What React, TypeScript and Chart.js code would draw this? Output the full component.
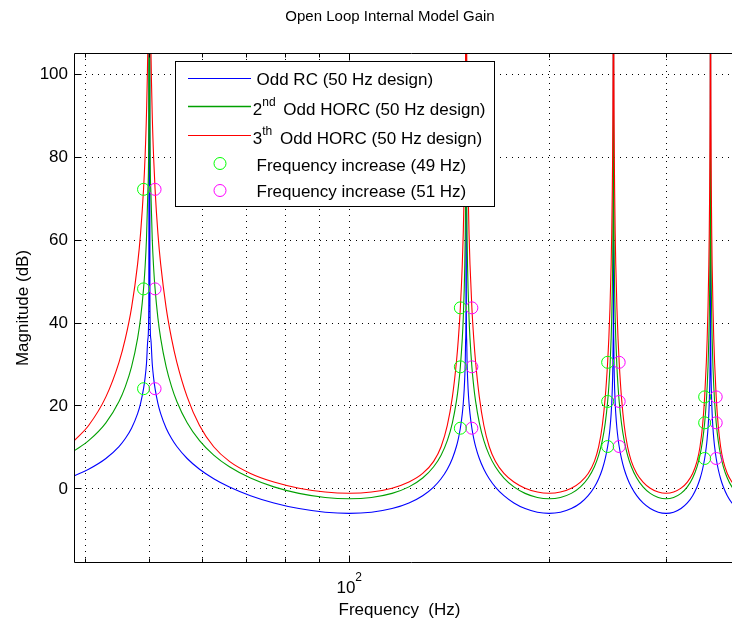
import React, { useEffect, useRef } from 'react';
import { Chart, registerables } from 'chart.js';

Chart.register(...registerables);

const FONT = '"Liberation Sans", Arial, Helvetica, sans-serif';

const chartTitle = 'Open Loop Internal Model Gain';
const xAxisTitle = 'Frequency  (Hz)';
const yAxisTitle = 'Magnitude (dB)';

// Frequencies (Hz) sampled along the curves
const frequencyHz = [
  38.5, 40.5, 43, 45, 46, 47, 48, 48.5, 49, 49.25, 49.5, 49.75, 49.9, 50,
  50.1, 50.25, 50.5, 50.75, 51, 51.5, 52, 53, 54, 55, 57, 59.5, 62.5, 66, 71, 77, 84, 92, 100,
  108, 116, 123, 129, 134, 137.5, 140.5, 143, 145, 146, 147, 148, 148.5, 149, 149.25, 149.5, 149.75, 149.9, 150,
  150.1, 150.25, 150.5, 150.75, 151, 151.5, 152, 153, 154, 155, 157, 159.5, 162.5, 166, 171, 177, 184, 192, 200,
  208, 216, 223, 229, 234, 237.5, 240.5, 243, 245, 246, 247, 248, 248.5, 249, 249.25, 249.5, 249.75, 249.9, 250,
  250.1, 250.25, 250.5, 250.75, 251, 251.5, 252, 253, 254, 255, 257, 259.5, 262.5, 266, 271, 277, 284, 292, 300,
  308, 316, 323, 329, 334, 337.5, 340.5, 343, 345, 346, 347, 348, 348.5, 349, 349.25, 349.5, 349.75, 349.9, 350,
  350.1, 350.25, 350.5, 350.75, 351, 351.5, 352, 353, 354, 355, 357, 359.5, 362.5, 366, 371, 377, 384, 392, 400,
];

// Odd RC (50 Hz design), dB
const oddRcDb = [
  3.012, 4.611, 7.205, 10.093, 12.018, 14.507, 18.022, 20.518, 24.038, 26.536, 30.057, 36.078, 44.036, 200,
  44.036, 36.078, 30.057, 26.536, 24.038, 20.518, 18.022, 14.507, 12.018, 10.093, 7.205, 4.611, 2.323, 0.323, -1.768, -3.523, -4.874, -5.743, -6.021,
  -5.743, -4.874, -3.523, -1.768, 0.323, 2.323, 4.611, 7.205, 10.093, 12.018, 14.507, 18.022, 20.518, 24.038, 26.536, 30.057, 36.078, 44.036, 200,
  44.036, 36.078, 30.057, 26.536, 24.038, 20.518, 18.022, 14.507, 12.018, 10.093, 7.205, 4.611, 2.323, 0.323, -1.768, -3.523, -4.874, -5.743, -6.021,
  -5.743, -4.874, -3.523, -1.768, 0.323, 2.323, 4.611, 7.205, 10.093, 12.018, 14.507, 18.022, 20.518, 24.038, 26.536, 30.057, 36.078, 44.036, 200,
  44.036, 36.078, 30.057, 26.536, 24.038, 20.518, 18.022, 14.507, 12.018, 10.093, 7.205, 4.611, 2.323, 0.323, -1.768, -3.523, -4.874, -5.743, -6.021,
  -5.743, -4.874, -3.523, -1.768, 0.323, 2.323, 4.611, 7.205, 10.093, 12.018, 14.507, 18.022, 20.518, 24.038, 26.536, 30.057, 36.078, 44.036, 200,
  44.036, 36.078, 30.057, 26.536, 24.038, 20.518, 18.022, 14.507, 12.018, 10.093, 7.205, 4.611, 2.323, 0.323, -1.768, -3.523, -4.874, -5.743, -6.021,
];

// 2nd Odd HORC (50 Hz design), dB
const horc2Db = [
  9.034, 11.506, 15.81, 20.962, 24.55, 29.311, 36.178, 41.112, 48.11, 53.091, 60.123, 72.157, 88.073, 200,
  88.073, 72.157, 60.123, 53.091, 48.11, 41.112, 36.178, 29.311, 24.55, 20.962, 15.81, 11.506, 8.013, 5.204, 2.489, 0.358, -1.208, -2.19, -2.499,
  -2.19, -1.208, 0.358, 2.489, 5.204, 8.013, 11.506, 15.81, 20.962, 24.55, 29.311, 36.178, 41.112, 48.11, 53.091, 60.123, 72.157, 88.073, 200,
  88.073, 72.157, 60.123, 53.091, 48.11, 41.112, 36.178, 29.311, 24.55, 20.962, 15.81, 11.506, 8.013, 5.204, 2.489, 0.358, -1.208, -2.19, -2.499,
  -2.19, -1.208, 0.358, 2.489, 5.204, 8.013, 11.506, 15.81, 20.962, 24.55, 29.311, 36.178, 41.112, 48.11, 53.091, 60.123, 72.157, 88.073, 200,
  88.073, 72.157, 60.123, 53.091, 48.11, 41.112, 36.178, 29.311, 24.55, 20.962, 15.81, 11.506, 8.013, 5.204, 2.489, 0.358, -1.208, -2.19, -2.499,
  -2.19, -1.208, 0.358, 2.489, 5.204, 8.013, 11.506, 15.81, 20.962, 24.55, 29.311, 36.178, 41.112, 48.11, 53.091, 60.123, 72.157, 88.073, 200,
  88.073, 72.157, 60.123, 53.091, 48.11, 41.112, 36.178, 29.311, 24.55, 20.962, 15.81, 11.506, 8.013, 5.204, 2.489, 0.358, -1.208, -2.19, -2.499,
];

// 3th Odd HORC (50 Hz design), dB
const horc3Db = [
  11.465, 15.165, 22.062, 30.401, 36.105, 43.537, 54.068, 61.554, 72.114, 79.608, 90.172, 108.233, 132.109, 200,
  132.109, 108.233, 90.172, 79.608, 72.114, 61.554, 54.068, 43.537, 36.105, 30.401, 22.062, 15.165, 10.042, 6.514, 3.601, 1.525, 0.048, -0.871, -1.16,
  -0.871, 0.048, 1.525, 3.601, 6.514, 10.042, 15.165, 22.062, 30.401, 36.105, 43.537, 54.068, 61.554, 72.114, 79.608, 90.172, 108.233, 132.109, 200,
  132.109, 108.233, 90.172, 79.608, 72.114, 61.554, 54.068, 43.537, 36.105, 30.401, 22.062, 15.165, 10.042, 6.514, 3.601, 1.525, 0.048, -0.871, -1.16,
  -0.871, 0.048, 1.525, 3.601, 6.514, 10.042, 15.165, 22.062, 30.401, 36.105, 43.537, 54.068, 61.554, 72.114, 79.608, 90.172, 108.233, 132.109, 200,
  132.109, 108.233, 90.172, 79.608, 72.114, 61.554, 54.068, 43.537, 36.105, 30.401, 22.062, 15.165, 10.042, 6.514, 3.601, 1.525, 0.048, -0.871, -1.16,
  -0.871, 0.048, 1.525, 3.601, 6.514, 10.042, 15.165, 22.062, 30.401, 36.105, 43.537, 54.068, 61.554, 72.114, 79.608, 90.172, 108.233, 132.109, 200,
  132.109, 108.233, 90.172, 79.608, 72.114, 61.554, 54.068, 43.537, 36.105, 30.401, 22.062, 15.165, 10.042, 6.514, 3.601, 1.525, 0.048, -0.871, -1.16,
];

// Circle markers: harmonics of 49 Hz and 51 Hz on each curve
const marker49Hz = [49, 49, 49, 147, 147, 147, 245, 245, 245, 343, 343, 343];
const marker51Hz = [51, 51, 51, 153, 153, 153, 255, 255, 255, 357, 357, 357];
const marker49Db = [24.038, 48.11, 72.114, 14.507, 29.311, 43.537, 10.093, 20.962, 30.401, 7.205, 15.81, 22.062];
const marker51Db = [24.038, 48.11, 72.114, 14.507, 29.311, 43.537, 10.093, 20.962, 30.401, 7.205, 15.81, 22.062];

const xMin = 38.5;
const xMax = 400;
const yMin = -18;
const yMax = 105;
const xGridValues = [40, 50, 60, 70, 80, 90, 100, 200, 300, 400];
const xMajorValues = [100];
const yGridValues = [0, 20, 40, 60, 80, 100];
const yTickLabels = ['0', '20', '40', '60', '80', '100'];

const seriesLabels = [
  'Odd RC (50 Hz design)',
  '2nd Odd HORC (50 Hz design)',
  '3th Odd HORC (50 Hz design)',
  'Frequency increase (49 Hz)',
  'Frequency increase (51 Hz)',
];
const legendSegments = [
  [{ t: 'Odd RC (50 Hz design)' }],
  [{ t: '2' }, { t: 'nd', sup: true }, { t: ' Odd HORC (50 Hz design)' }],
  [{ t: '3' }, { t: 'th', sup: true }, { t: ' Odd HORC (50 Hz design)' }],
  [{ t: 'Frequency increase (49 Hz)' }],
  [{ t: 'Frequency increase (51 Hz)' }],
];

const BLUE = '#0000ff';
const GREEN = '#00a000';
const RED = '#ff0000';
const LIME = '#00ff00';
const MAGENTA = '#ff00ff';

const legendKinds = [
  { kind: 'line', color: BLUE },
  { kind: 'line', color: GREEN },
  { kind: 'line', color: RED },
  { kind: 'circle', color: LIME },
  { kind: 'circle', color: MAGENTA },
];

const matlabPlugin = {
  id: 'matlabAxes',
  beforeDatasetsDraw(chart: any) {
    const { ctx, chartArea: a, scales } = chart;
    const x = scales.x;
    const y = scales.y;
    ctx.save();
    ctx.strokeStyle = '#000';
    ctx.lineWidth = 1;
    ctx.setLineDash([1, 5]);
    ctx.beginPath();
    for (const v of xGridValues) {
      const px = Math.round(x.getPixelForValue(v)) + 0.5;
      ctx.moveTo(px, a.top);
      ctx.lineTo(px, a.bottom);
    }
    for (const v of yGridValues) {
      const py = Math.round(y.getPixelForValue(v)) + 0.5;
      ctx.moveTo(a.left, py);
      ctx.lineTo(a.right, py);
    }
    ctx.stroke();
    ctx.restore();
  },
  afterDatasetsDraw(chart: any) {
    const { ctx, chartArea: a, scales } = chart;
    const x = scales.x;
    const y = scales.y;
    ctx.save();
    // axes box
    ctx.strokeStyle = '#000';
    ctx.lineWidth = 1;
    ctx.setLineDash([]);
    const L = Math.round(a.left) + 0.5;
    const R = Math.round(a.right) - 0.5;
    const T = Math.round(a.top) + 0.5;
    const B = Math.round(a.bottom) - 0.5;
    ctx.beginPath();
    ctx.moveTo(L, T); ctx.lineTo(R, T); ctx.lineTo(R, B); ctx.lineTo(L, B); ctx.closePath();
    // inside ticks
    for (const v of xGridValues) {
      const px = Math.round(x.getPixelForValue(v)) + 0.5;
      const len = xMajorValues.includes(v) ? 7 : 4;
      ctx.moveTo(px, B); ctx.lineTo(px, B - len);
      ctx.moveTo(px, T); ctx.lineTo(px, T + len);
    }
    for (const v of yGridValues) {
      const py = Math.round(y.getPixelForValue(v)) + 0.5;
      ctx.moveTo(L, py); ctx.lineTo(L + 7, py);
      ctx.moveTo(R, py); ctx.lineTo(R - 7, py);
    }
    ctx.stroke();

    ctx.fillStyle = '#000';
    // y tick labels
    ctx.font = `17px ${FONT}`;
    ctx.textAlign = 'right';
    ctx.textBaseline = 'middle';
    yGridValues.forEach((v, i) => {
      ctx.fillText(yTickLabels[i], a.left - 6, y.getPixelForValue(v) + 1);
    });
    // x tick label 10^2
    for (const v of xMajorValues) {
      const px = x.getPixelForValue(v);
      const base = '10';
      const exp = String(Math.round(Math.log10(v)));
      ctx.font = `17px ${FONT}`;
      const wb = ctx.measureText(base).width;
      ctx.font = `12px ${FONT}`;
      const we = ctx.measureText(exp).width;
      const x0 = px - (wb + we) / 2;
      ctx.textAlign = 'left';
      ctx.textBaseline = 'alphabetic';
      ctx.font = `17px ${FONT}`;
      ctx.fillText(base, x0, a.bottom + 30);
      ctx.font = `12px ${FONT}`;
      ctx.fillText(exp, x0 + wb, a.bottom + 18);
    }
    // axis titles
    ctx.font = `17px ${FONT}`;
    ctx.textAlign = 'center';
    ctx.textBaseline = 'alphabetic';
    ctx.fillText(xAxisTitle, 399.5, 615);
    ctx.save();
    ctx.translate(27.5, 308);
    ctx.rotate(-Math.PI / 2);
    ctx.fillText(yAxisTitle, 0, 0);
    ctx.restore();
    // title
    ctx.font = `15px ${FONT}`;
    ctx.fillText(chartTitle, 390, 21);

    // legend
    const bx = 175.5, by = 61.5, bw = 319, bh = 145;
    ctx.fillStyle = '#fff';
    ctx.fillRect(bx, by, bw, bh);
    ctx.strokeStyle = '#000';
    ctx.lineWidth = 1;
    ctx.strokeRect(bx, by, bw, bh);
    const rowY = [78.5, 106.5, 135.5, 163.5, 190.5];
    const textBase = [85, 115, 143.5, 170.5, 197];
    legendKinds.forEach((k, i) => {
      ctx.strokeStyle = k.color;
      if (k.kind === 'line') {
        ctx.lineWidth = i === 1 ? 1.5 : 1;
        ctx.beginPath();
        ctx.moveTo(188, rowY[i]);
        ctx.lineTo(251, rowY[i]);
        ctx.stroke();
      } else {
        ctx.lineWidth = 1;
        ctx.beginPath();
        ctx.arc(220, rowY[i], 6, 0, Math.PI * 2);
        ctx.stroke();
      }
      ctx.fillStyle = '#000';
      ctx.textAlign = 'left';
      ctx.textBaseline = 'alphabetic';
      const segs = legendSegments[i];
      let tx = segs.length > 1 ? 252.8 : 256.5;
      segs.forEach((s: any, j: number) => {
        if (s.sup) {
          ctx.font = `12px ${FONT}`;
          ctx.fillText(s.t, tx, textBase[i] - 9);
          tx += ctx.measureText(s.t).width + 3;
        } else {
          ctx.font = `17px ${FONT}`;
          ctx.fillText(s.t, tx, textBase[i]);
          tx += ctx.measureText(s.t).width;
        }
      });
    });
    ctx.restore();
  },
};

export default function App() {
  const ref = useRef<HTMLCanvasElement>(null);
  useEffect(() => {
    const toPts = (xs: number[], ys: number[]) => xs.map((f, i) => ({ x: f, y: ys[i] }));
    const lineDs = (label: string, ys: number[], color: string, order: number) => ({
      label,
      data: toPts(frequencyHz, ys),
      borderColor: color,
      backgroundColor: color,
      borderWidth: 1.1,
      pointRadius: 0,
      cubicInterpolationMode: 'monotone' as const,
      fill: false,
      order,
    });
    const markerDs = (label: string, xs: number[], ys: number[], color: string) => ({
      label,
      data: toPts(xs, ys),
      showLine: false,
      borderColor: color,
      backgroundColor: 'rgba(0,0,0,0)',
      pointStyle: 'circle' as const,
      pointRadius: 6,
      pointBorderWidth: 1,
      order: 0,
    });
    const chart = new Chart(ref.current as HTMLCanvasElement, {
      type: 'line',
      data: {
        datasets: [
          lineDs(seriesLabels[0], oddRcDb, BLUE, 3),
          lineDs(seriesLabels[1], horc2Db, GREEN, 2),
          lineDs(seriesLabels[2], horc3Db, RED, 1),
          markerDs(seriesLabels[3], marker49Hz, marker49Db, LIME),
          markerDs(seriesLabels[4], marker51Hz, marker51Db, MAGENTA),
        ] as any,
      },
      options: {
        animation: false,
        responsive: false,
        devicePixelRatio: 1,
        layout: { padding: { left: 74, right: 11, top: 53, bottom: 60 } },
        plugins: { legend: { display: false }, title: { display: false }, tooltip: { enabled: false } },
        events: [],
        scales: {
          x: { type: 'logarithmic', min: xMin, max: xMax, display: false },
          y: { type: 'linear', min: yMin, max: yMax, display: false },
        },
      },
      plugins: [matlabPlugin],
    });
    return () => chart.destroy();
  }, []);
  return (
    <div style={{ position: 'absolute', left: 0, top: 0, width: 732, height: 623, overflow: 'hidden', background: '#fff' }}>
      <canvas ref={ref} width={760} height={623} style={{ display: 'block', width: 760, height: 623 }} />
    </div>
  );
}
